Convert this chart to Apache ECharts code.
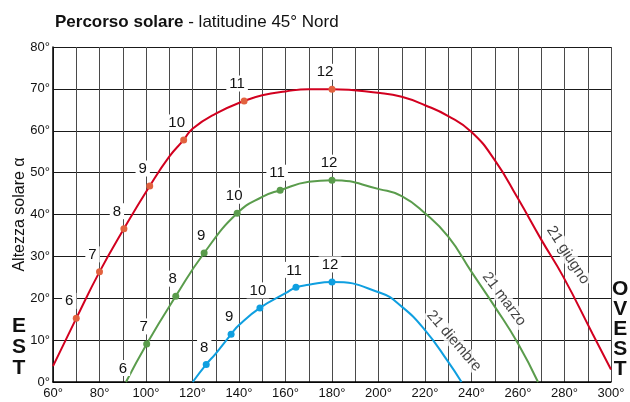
<!DOCTYPE html>
<html>
<head>
<meta charset="utf-8">
<script src="https://cdn.jsdelivr.net/npm/echarts@6/dist/echarts.min.js"></script>
<style>
  html, body { margin: 0; padding: 0; background: #fff; }
  #chart { width: 630px; height: 402px; }
</style>
</head>
<body>
<div id="chart"></div>
<script>
// percorso del sole: [azimut, altezza]
var giugnoCurve = [[60, 3.8], [70, 15.2], [80, 26.3], [90.5, 36.6], [101.6, 46.8], [110, 53.8], [116.2, 57.8],
    [120, 60.5], [130, 64.1], [142.2, 67.1], [150, 68.5], [160, 69.4], [170, 69.9], [180, 69.9],
    [200.7, 69.0], [210, 68.1], [220, 66.1], [230, 63.5], [240, 59.7], [250, 53.0], [260, 43.8],
    [270, 34.0], [279.5, 25.1], [292, 11.6], [300, 3.0]];
var marzoCurve = [[91.4, 0], [100.3, 9.1], [112.8, 20.5], [125, 30.8], [139.2, 40.3], [150, 44.2], [157.7, 45.8],
    [170, 47.8], [180, 48.2], [200.7, 46.0], [210, 44.4], [220, 40.3], [230, 34.7], [240, 26.3],
    [250, 18.0], [260, 9.2], [268.6, 0]];
var dicembreCurve = [[120.1, 0], [125.9, 4.2], [130, 6.8], [136.6, 11.4], [140, 13.6], [149, 17.7], [160, 21.2],
    [164.5, 22.6], [170, 23.2], [180, 23.9], [200.7, 21.3], [210, 18.0], [220, 12.4], [230, 4.8], [235.7, 0]];

// ore segnate sulle curve
var giugnoOre = [6, 7, 8, 9, 10, 11, 12];
var giugnoPunti = [[70, 15.2], [80, 26.3], [90.5, 36.6], [101.6, 46.8], [116.2, 57.8], [142.2, 67.1], [180, 69.9]];
var marzoOre = [6, 7, 8, 9, 10, 11, 12];
var marzoPunti = [[91.4, 0], [100.3, 9.1], [112.8, 20.5], [125, 30.8], [139.2, 40.3], [157.7, 45.8], [180, 48.2]];
var dicembreOre = [8, 9, 10, 11, 12];
var dicembrePunti = [[125.9, 4.2], [136.6, 11.4], [149, 17.7], [164.5, 22.6], [180, 23.9]];

// nomi delle curve e dove stanno
var nomiCurve = ['21 giugno', '21 marzo', '21 diembre'];
var nomiPunti = [[281.5, 30.3], [254, 19.8], [232.5, 9.8]];

var xTicks = [60, 80, 100, 120, 140, 160, 180, 200, 220, 240, 260, 280, 300];

var FONT = 'Liberation Sans, Arial, Helvetica, sans-serif';
var ROSSO = '#d2001f', ROSSO_PUNTO = '#e2623f';
var VERDE = '#5a9c4c', BLU = '#0f9fe0';

var myChart = echarts.init(document.getElementById('chart'));

function oreData(ore, punti, noDot) {
    var res = [];
    for (var i = 0; i < ore.length; i++) {
        var item = { name: String(ore[i]), value: punti[i] };
        if (noDot && noDot.indexOf(ore[i]) >= 0) item.symbolSize = 0;
        res.push(item);
    }
    return res;
}

function curva(nome, data, color) {
    return {
        name: nome, type: 'line', data: data, smooth: 0.5, showSymbol: false,
        lineStyle: { color: color, width: 2 }, z: 3, silent: true
    };
}

function punti(nome, data, color, shift) {
    return {
        name: nome, type: 'scatter', data: data, symbolSize: 7,
        itemStyle: { color: color, opacity: 1 }, z: 5,
        label: {
            show: true, position: 'top', distance: 6, offset: shift,
            formatter: '{b}', color: '#111', fontFamily: FONT, fontSize: 15,
            backgroundColor: '#fff', padding: [1, 3, 0, 3]
        }
    };
}

var nomiData = nomiCurve.map(function (n, i) { return { name: n, value: nomiPunti[i] }; });
var rotazioni = [-57, -53, -49];

var option = {
    animation: false,
    backgroundColor: '#fff',
    textStyle: { fontFamily: FONT },
    title: {
        left: 50, top: 9,
        text: '{b|Percorso solare}{r| - latitudine 45° Nord}',
        textStyle: {
            rich: {
                b: { fontFamily: FONT, fontSize: 17, fontWeight: 'bold', color: '#111' },
                r: { fontFamily: FONT, fontSize: 17, fontWeight: 'normal', color: '#111' }
            }
        }
    },
    grid: { left: 53, right: 19, top: 47, bottom: 20, outerBoundsMode: 'none' },
    xAxis: {
        type: 'value', min: 60, max: 300, interval: 10,
        axisLine: { show: true, lineStyle: { color: '#000', width: 1.5 } },
        axisTick: { show: false },
        axisLabel: {
            margin: 5, color: '#111', fontFamily: FONT, fontSize: 13,
            showMinLabel: true, showMaxLabel: true,
            formatter: function (v) { return xTicks.indexOf(v) >= 0 ? v + '°' : ''; }
        },
        splitLine: { show: true, lineStyle: { color: '#4a4a4a', width: 1 } }
    },
    yAxis: {
        type: 'value', min: 0, max: 80, interval: 10,
        name: 'Altezza solare α', nameLocation: 'middle', nameGap: 25, nameMoveOverlap: false,
        nameTextStyle: { color: '#111', fontFamily: FONT, fontSize: 16 },
        axisLine: { show: true, lineStyle: { color: '#000', width: 1.5 } },
        axisTick: { show: false },
        axisLabel: {
            margin: 3, color: '#111', fontFamily: FONT, fontSize: 13,
            formatter: '{value}°'
        },
        splitLine: { show: true, lineStyle: { color: '#1a1a1a', width: 1 } }
    },
    graphic: [
        {
            type: 'text', left: 12, top: 316,
            style: { text: 'E\nS\nT', font: 'bold 21px ' + FONT, fill: '#111', lineHeight: 21, textAlign: 'center' }
        },
        {
            type: 'text', left: 612, top: 279,
            style: { text: 'O\nV\nE\nS\nT', font: 'bold 21px ' + FONT, fill: '#111', lineHeight: 20, textAlign: 'center' }
        }
    ],
    series: [
        curva('21 giugno', giugnoCurve, ROSSO),
        curva('21 marzo', marzoCurve, VERDE),
        curva('21 dicembre', dicembreCurve, BLU),
        punti('ore giugno', oreData(giugnoOre, giugnoPunti), ROSSO_PUNTO, [-7, 0]),
        punti('ore marzo', oreData(marzoOre, marzoPunti, [6]), VERDE, [-3, 0]),
        punti('ore dicembre', oreData(dicembreOre, dicembrePunti), BLU, [-2, 0]),
        {
            name: 'nomi', type: 'scatter', symbolSize: 1, z: 4,
            itemStyle: { color: 'transparent' },
            data: nomiData.map(function (d, i) {
                return {
                    name: d.name, value: d.value,
                    label: { rotate: rotazioni[i] }
                };
            }),
            label: {
                show: true, position: 'inside', formatter: '{b}',
                color: '#111', fontFamily: FONT, fontSize: 15,
                backgroundColor: '#fff', padding: [0, 2],
                align: 'center', verticalAlign: 'middle'
            }
        }
    ]
};

myChart.setOption(option);
window.addEventListener('resize', function () {
    myChart.resize();
});
</script>
</body>
</html>
